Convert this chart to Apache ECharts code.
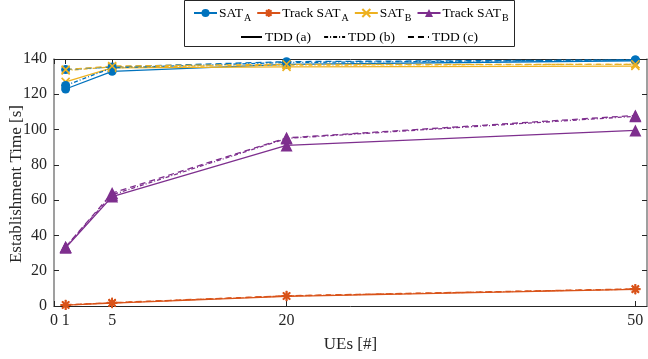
<!DOCTYPE html>
<html>
<head>
<meta charset="utf-8">
<script src="https://cdn.jsdelivr.net/npm/echarts@6/dist/echarts.min.js"></script>
<style>
  html, body { margin: 0; padding: 0; background: #fff; }
  #chart { width: 648px; height: 359px; }
</style>
</head>
<body>
<div id="chart"></div>
<script>
// Number of UEs on the x axis
const ues = [1, 5, 20, 50];
const xTicks = [0, 1, 5, 20, 50];

// Establishment time [s] per TDD configuration
const satA_a = [123, 133, 137, 139];
const satA_b = [125, 135, 138, 139.5];
const satA_c = [134, 135.5, 138.5, 139.5];

const trackSatA_a = [0.5, 1.6, 5.5, 9.4];
const trackSatA_b = [0.6, 1.8, 5.7, 9.6];
const trackSatA_c = [0.7, 1.9, 5.8, 9.7];

const satB_a = [127, 135, 135.5, 136];
const satB_b = [133.5, 135.5, 136.5, 137];
const satB_c = [134, 136, 137, 137];

const trackSatB_a = [33, 62, 91, 99.5];
const trackSatB_b = [33.5, 63, 95, 107.5];
const trackSatB_c = [33.5, 64, 95.3, 108];

const names = ['SAT_A', 'Track SAT_A', 'SAT_B', 'Track SAT_B'];
const tddNames = ['TDD (a)', 'TDD (b)', 'TDD (c)'];
const yTitle = 'Establishment Time [s]';
const xTitle = 'UEs [#]';

const colors = { blue: '#0072BD', orange: '#D95319', yellow: '#EDB120', purple: '#7E2F8E' };
const dashTypes = ['solid', [4, 2, 1, 2], [6, 4]];

const asterisk = 'path://M5,0L5,10M0,5L10,5M1.5,1.5L8.5,8.5M1.5,8.5L8.5,1.5';
const cross = 'path://M0,0L10,10M0,10L10,0';

const font = 'Liberation Serif';
const axisColor = '#262626';

function pairs(vals) { return ues.map((u, i) => [u, vals[i]]); }

const families = [
  { name: names[0], color: colors.blue, symbol: 'circle', size: 9, stroke: false, sets: [satA_a, satA_b, satA_c] },
  { name: names[1], color: colors.orange, symbol: asterisk, size: 10, stroke: true, sets: [trackSatA_a, trackSatA_b, trackSatA_c] },
  { name: names[2], color: colors.yellow, symbol: cross, size: 8, stroke: true, sets: [satB_a, satB_b, satB_c] },
  { name: names[3], color: colors.purple, symbol: 'triangle', size: 12, stroke: false, sets: [trackSatB_a, trackSatB_b, trackSatB_c] }
];

const series = [];
for (let t = 0; t < 3; t++) {
  families.forEach(f => {
    series.push({
      type: 'line',
      name: f.name,
      data: pairs(f.sets[t]),
      symbol: f.symbol,
      symbolSize: f.size,
      showSymbol: true,
      symbolKeepAspect: true,
      lineStyle: { color: f.color, width: 1.3, type: dashTypes[t] },
      itemStyle: f.stroke
        ? { color: 'rgba(0,0,0,0)', borderColor: f.color, borderWidth: 1.6 }
        : { color: f.color, borderColor: f.color, borderWidth: 0 },
      animation: false,
      z: 2 + t
    });
  });
}
// Line-style key entries (no data, only drive the second legend)
tddNames.forEach((n, t) => {
  series.push({
    type: 'line', name: n, data: [], symbol: 'none', showSymbol: false,
    lineStyle: { color: '#000', width: 1.2, type: dashTypes[t] },
    itemStyle: { color: '#000' }, animation: false
  });
});

function subLabel(name) {
  const parts = name.split('_');
  return parts.length > 1 ? '{n|' + parts[0] + '}{s|' + parts[1] + '}' : name;
}

const chart = echarts.init(document.getElementById('chart'), null, { renderer: 'canvas' });
chart.setOption({
  animation: false,
  backgroundColor: '#fff',
  grid: { left: 54, right: 1, top: 59, bottom: 53, containLabel: false, outerBoundsMode: 'none' },
  graphic: [{
    type: 'rect', shape: { x: 184.5, y: 0.5, width: 330, height: 46 },
    style: { fill: '#fff', stroke: '#262626', lineWidth: 1 }, z: 0
  }, {
    type: 'text', x: 17, y: 184, rotation: Math.PI / 2,
    style: { text: yTitle, font: '17px "Liberation Serif"', fill: axisColor, align: 'center', verticalAlign: 'middle' },
    z: 5
  }],
  legend: [{
    data: names, left: 188, top: 1, itemWidth: 23, itemHeight: 10, itemGap: 5,
    formatter: subLabel,
    textStyle: {
      fontFamily: font, fontSize: 13.5, color: '#000', padding: [0, 0, 0, -3],
      rich: {
        n: { fontFamily: font, fontSize: 13.5, color: '#000' },
        s: { fontFamily: font, fontSize: 10, color: '#000', padding: [11, 0, 0, 1] }
      }
    },
    z: 5
  }, {
    data: tddNames, left: 235, top: 25, itemWidth: 21, itemHeight: 10, itemGap: 12,
    itemStyle: { opacity: 0 },
    textStyle: { fontFamily: font, fontSize: 13.5, color: '#000', padding: [0, 0, 0, -2] },
    z: 5
  }],
  xAxis: [{
    type: 'value', min: 0, max: 51, position: 'bottom',
    name: xTitle, nameLocation: 'middle', nameGap: 30,
    nameTextStyle: { fontFamily: font, fontSize: 17, color: axisColor },
    axisLine: { show: true, onZero: false, lineStyle: { color: axisColor, width: 1 } },
    axisTick: { show: true, inside: true, length: 5, customValues: xTicks, lineStyle: { color: axisColor } },
    axisLabel: { customValues: xTicks, fontFamily: font, fontSize: 16, color: axisColor, margin: 7 },
    splitLine: { show: false }
  }, {
    type: 'value', min: 0, max: 51, position: 'top',
    axisLine: { show: true, onZero: false, lineStyle: { color: axisColor, width: 1 } },
    axisTick: { show: true, inside: true, length: 5, customValues: xTicks, lineStyle: { color: axisColor } },
    axisLabel: { show: false },
    splitLine: { show: false }
  }],
  yAxis: [{
    type: 'value', min: 0, max: 140, interval: 20, position: 'left',
    axisLine: { show: true, onZero: false, lineStyle: { color: '#7f7f7f', width: 1.5 } },
    axisTick: { show: true, inside: true, length: 5, lineStyle: { color: axisColor } },
    axisLabel: { fontFamily: font, fontSize: 16, color: axisColor, margin: 7 },
    splitLine: { show: false }
  }, {
    type: 'value', min: 0, max: 140, interval: 20, position: 'right',
    axisLine: { show: true, onZero: false, lineStyle: { color: '#7f7f7f', width: 1.5 } },
    axisTick: { show: true, inside: true, length: 5, lineStyle: { color: axisColor } },
    axisLabel: { show: false },
    splitLine: { show: false }
  }],
  series: series
});
</script>
</body>
</html>
